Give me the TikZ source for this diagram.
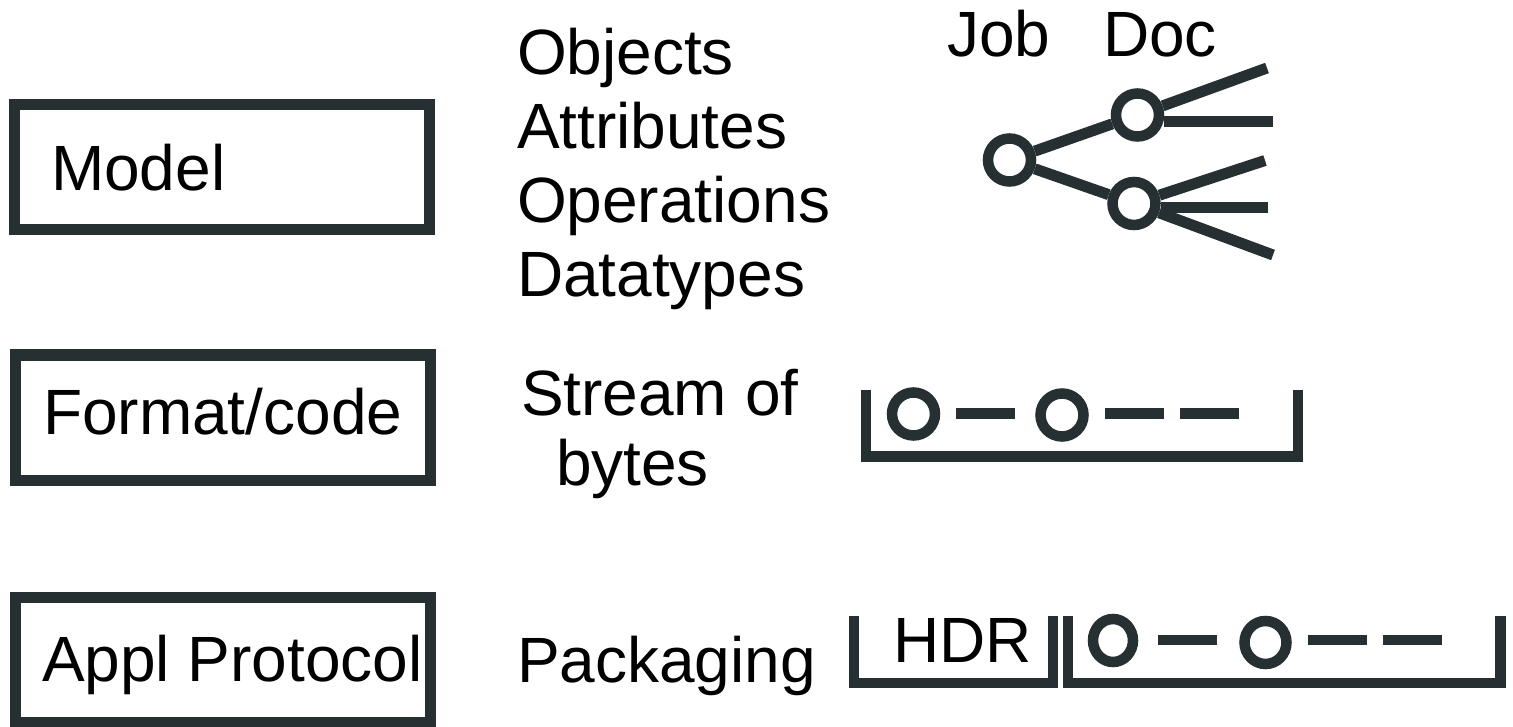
\documentclass[tikz,border=0pt]{standalone}
\usepackage{fontspec}
\setmainfont{Liberation Sans}
\usetikzlibrary{shapes.geometric}
\definecolor{ink}{HTML}{262F31}
\tikzset{
  lbl/.style={anchor=base west, inner sep=0pt, outer sep=0pt, font=\fontsize{64}{64}\selectfont, text=black},
  layerbox/.style={draw=ink, line width=11pt, inner sep=0pt, minimum width=415pt, minimum height=125pt},
  ring/.style={circle, draw=ink, fill=white, line width=10.5pt, inner sep=0pt, minimum size=43pt},
  oval/.style={ellipse, draw=ink, fill=white, line width=10.5pt, inner sep=0pt},
  stroke/.style={draw=ink, line width=11pt},
  bar/.style={draw=ink, line width=10.5pt}
}
\begin{document}
\begin{tikzpicture}[x=1pt,y=-1pt]
\useasboundingbox[fill=white] (0,0) rectangle (1513,727);

% layer boxes
\node[layerbox] (modelbox)  at (222,167) {};
\node[layerbox] (formatbox) at (222.5,417.5) {};
\node[layerbox] (applbox)   at (222.5,660) {};
\node[lbl] (modeltxt)  at (51,191)  {Model};
\node[lbl] (formattxt) at (43,434)  {Format/code};
\node[lbl] (appltxt)   at (42,681)  {Appl Protocol};

% middle column
\node[lbl] (objects)    at (517,75)  {Objects};
\node[lbl] (attributes) at (517,149) {Attributes};
\node[lbl] (operations) at (517,223) {Operations};
\node[lbl] (datatypes)  at (517,297) {Datatypes};
\node[lbl] (stream)     at (521,415) {Stream of};
\node[lbl] (bytes)      at (556,485) {bytes};
\node[lbl] (packaging)  at (517,682) {Packaging};

% tree
\node[lbl] (jobtxt) at (947,57)  {Job};
\node[lbl] (doctxt) at (1103,57) {Doc};
\node[ring] (job)  at (1009.5,160) {};
\node[ring] (doc1) at (1137.5,115) {};
\node[ring] (doc2) at (1134,203.5) {};
\coordinate (e1a) at (1267,68);
\coordinate (e1b) at (1273,122);
\coordinate (e2a) at (1265,160.5);
\coordinate (e2b) at (1268,208);
\coordinate (e2c) at (1273,255);
\draw[stroke] (job) -- (doc1);
\draw[stroke] (job) -- (doc2);
\draw[stroke] (doc1) -- (e1a);
\draw[stroke] (doc1.east |- e1b) -- (e1b);
\draw[stroke] (doc2) -- (e2a);
\draw[stroke] (doc2.east |- e2b) -- (e2b);
\draw[stroke] (doc2) -- (e2c);

% stream of bytes
\draw[bar] (866,390) -- (866,456.5) -- (1298,456.5) -- (1298,390);
\node[ring] (s1) at (913.5,414) {};
\node[ring] (s2) at (1062,415) {};
\draw[bar] (956,413.5) -- (1015,413.5);
\draw[bar] (1105,413.5) -- (1164,413.5);
\draw[bar] (1180,413.5) -- (1239,413.5);

% packaging
\draw[bar] (854,616) -- (854,683) -- (1053,683) -- (1053,616);
\node[lbl] (hdr) at (893,662) {HDR};
\draw[bar] (1068,616) -- (1068,683) -- (1500.5,683) -- (1500.5,616);
\node[oval, minimum width=40pt, minimum height=43pt] (p1) at (1113,640.5) {};
\node[oval, minimum width=42pt, minimum height=43pt] (p2) at (1265.5,642.5) {};
\draw[bar] (1158,640) -- (1217,640);
\draw[bar] (1308,640) -- (1367,640);
\draw[bar] (1383,640) -- (1442,640);
\end{tikzpicture}
\end{document}
